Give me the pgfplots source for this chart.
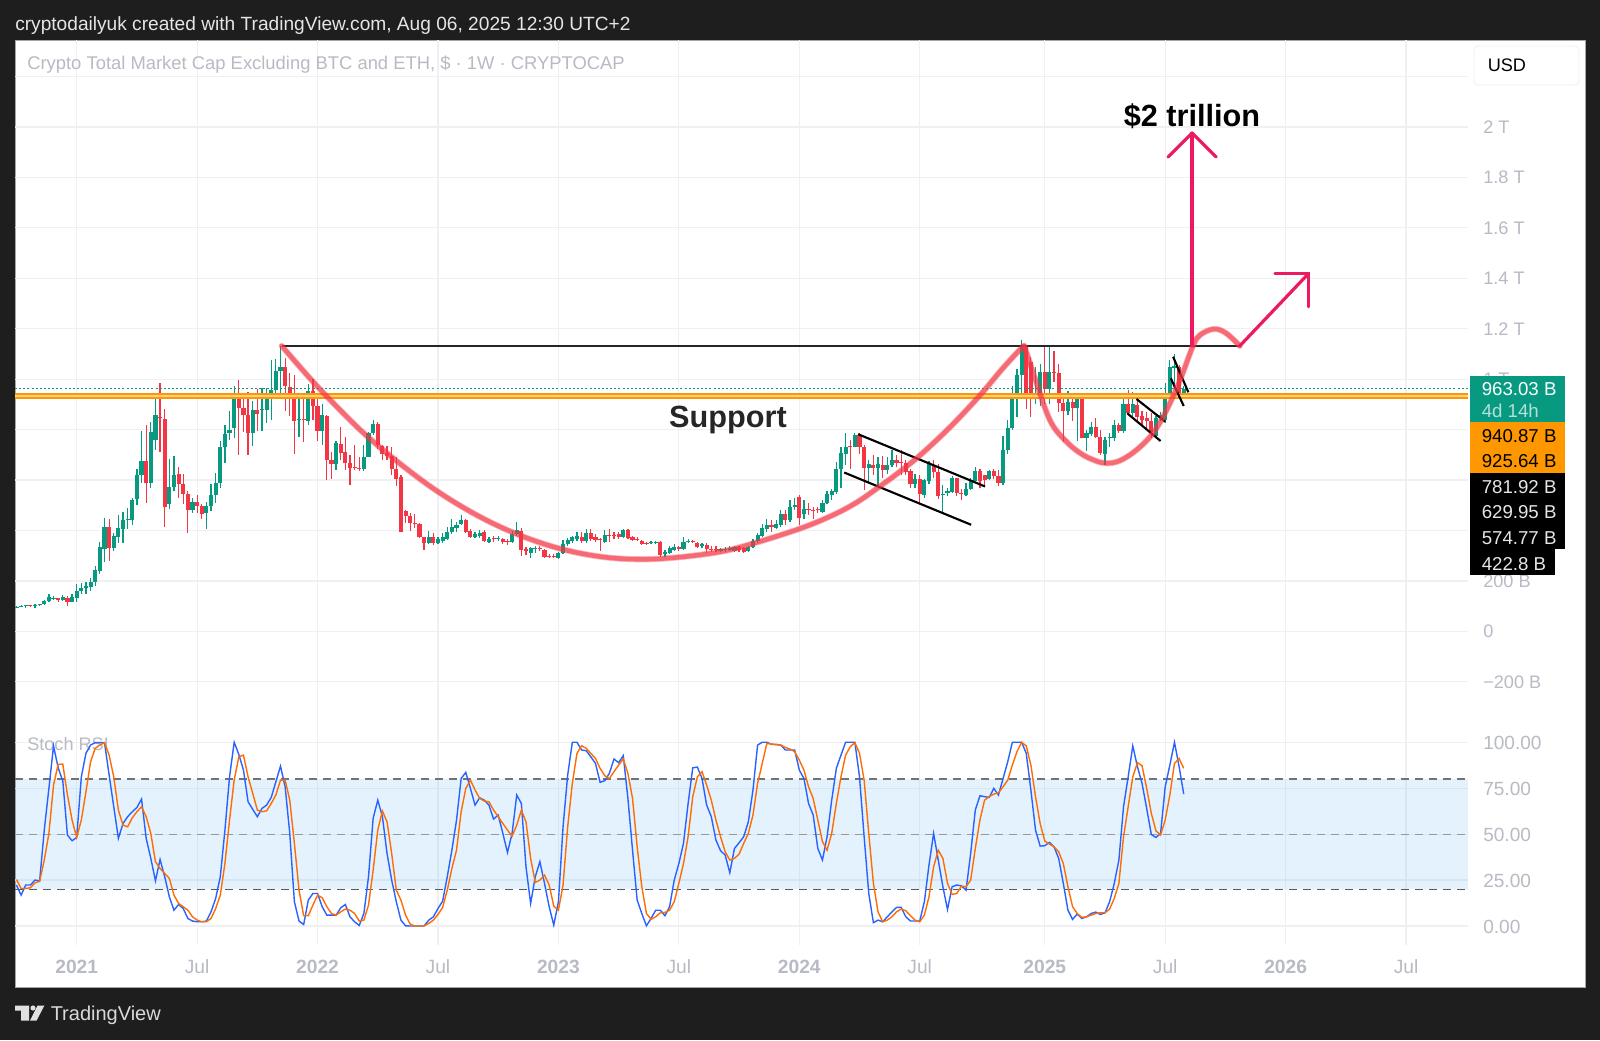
\documentclass[border=0pt]{standalone}
\usepackage{pgfplots}
\usepackage{pgfplotstable}
\usepackage{fontspec}
\setmainfont{Liberation Sans}
\pgfplotsset{compat=1.18}
\definecolor{bgd}{HTML}{1E1E1E}
\definecolor{upc}{HTML}{089981}
\definecolor{dnc}{HTML}{F23645}
\definecolor{org}{HTML}{FF9800}
\definecolor{tick}{HTML}{B8BAC4}
\definecolor{gridc}{HTML}{F0F0F2}
\definecolor{cup}{HTML}{F23645}
\definecolor{arr}{HTML}{EC1A60}
\definecolor{kline}{HTML}{2962FF}
\definecolor{dline}{HTML}{FF6D00}
\definecolor{band}{HTML}{2196F3}
\newcommand\fs[1]{\fontsize{#1pt}{#1pt}\selectfont}
% weekly candles, x = weeks from Jan 2021, prices in billions
\pgfplotstableread{
x o h l c
-13 95 102 92 98
-12 98 106 96 102
-11 100 106 92 103
-9 100 108 94 103
-8 103 110 100 107
-7 107 126 104 122
-6 122 150 118 135
-5 128 142 124 132
-3 123 145 120 135
-1 118 148 115 135
0 132 188 118 162
1 160 190 150 172
2 172 195 148 180
3 178 212 160 197
4 195 258 180 245
5 240 355 228 335
6 325 450 275 415
8 330 392 320 378
9 375 460 350 410
10 405 475 350 440
11 440 490 405 445
12 440 530 420 520
13 525 645 500 620
14 620 795 590 675
16 590 830 570 790
17 759 935 720 858
20 504 682 487 571
21 571 695 555 620
25 481 530 470 514
28 470 515 405 497
29 498 585 477 541
30 541 630 510 587
31 587 755 570 732
32 732 820 669 783
33 785 875 760 800
34 805 975 765 935
38 785 915 735 878
40 877 965 795 880
41 878 965 828 920
42 920 1075 838 957
43 957 1080 930 1032
44 1032 1130 945 1050
48 840 935 770 842
50 835 980 820 953
53 795 900 740 858
56 664 755 640 746
62 643 740 638 693
63 693 790 690 785
64 785 840 780 822
76 352 400 345 373
78 349 373 345 365
79 360 390 350 373
80 366 415 362 393
81 393 445 385 415
82 410 435 395 420
83 425 460 420 440
86 375 395 372 386
87 380 402 370 392
89 356 375 350 365
91 365 378 358 370
94 353 398 350 385
95 385 432 380 402
98 312 335 292 329
99 325 340 310 332
104 292 315 288 309
105 309 362 305 346
106 346 372 340 362
107 357 380 350 373
108 368 395 358 380
110 358 405 350 389
114 355 402 350 382
118 373 405 370 402
124 352 358 346 355
125 353 358 345 356
127 306 322 296 316
128 312 338 305 329
129 323 345 318 336
131 326 375 322 356
132 356 368 350 360
135 337 350 330 345
139 320 332 315 326
140 323 335 316 326
141 323 340 318 331
142 320 340 315 333
145 318 340 315 336
146 336 368 332 360
147 357 390 352 382
148 380 425 375 412
149 406 445 395 422
151 412 440 405 426
152 422 480 415 465
154 442 520 435 495
155 492 530 480 500
157 464 520 445 485
161 475 520 470 508
162 508 555 505 543
163 540 565 520 558
164 551 670 545 644
165 644 730 568 706
166 703 788 660 730
168 732 785 730 778
171 649 680 590 662
173 646 690 580 664
175 640 690 625 660
176 660 720 650 680
181 584 625 570 603
183 541 605 530 600
184 598 675 585 662
187 541 580 470 545
188 548 570 535 556
189 554 615 550 607
192 541 590 535 565
193 565 610 560 600
194 598 650 595 637
197 603 640 600 637
200 590 775 580 719
201 719 840 705 805
202 805 975 800 927
203 930 1040 850 1017
204 1017 1155 945 1132
207 920 1050 900 937
208 937 1060 895 1027
210 960 1130 900 1027
214 872 955 860 911
216 885 935 755 920
218 765 800 715 785
219 783 830 775 812
222 703 770 660 759
223 765 785 730 772
224 765 840 755 818
226 796 935 785 902
228 867 950 855 902
233 775 855 770 845
234 845 870 835 858
235 838 985 825 937
236 937 1075 925 1050
237 1045 1100 980 1052
239 937 975 925 963
}\upT
\pgfplotstableread{
x o h l c
-10 103 106 96 101
-4 131 134 115 124
-2 133 142 100 118
7 415 445 280 330
15 675 820 510 590
18 850 985 710 848
19 842 880 415 495
22 624 653 530 583
23 584 624 505 545
24 545 555 390 481
26 514 540 470 497
27 497 505 447 464
35 935 997 700 885
36 885 945 790 860
37 860 950 700 788
39 878 960 795 862
45 1050 1085 875 973
46 970 1025 855 934
47 934 1015 705 835
49 843 945 752 840
51 953 1000 840 895
52 895 935 755 795
54 854 858 600 680
55 680 710 605 664
57 742 810 680 709
58 710 770 640 666
59 669 700 582 649
60 650 740 640 648
61 648 690 635 645
65 822 830 725 739
66 735 738 680 703
67 707 735 680 695
68 695 730 620 645
69 645 690 575 604
70 613 620 395 395
71 477 480 430 459
72 459 470 400 431
73 431 465 410 428
74 426 430 370 373
75 373 375 322 352
77 373 390 342 349
84 441 445 390 393
85 398 405 370 373
88 395 402 355 360
90 370 380 355 365
92 368 372 345 353
93 358 365 342 353
96 400 410 300 323
97 325 335 303 320
100 332 340 320 329
101 323 328 290 297
102 300 308 292 297
103 298 305 290 294
109 373 395 352 360
111 389 405 360 368
112 375 385 355 362
113 365 372 320 361
115 383 405 355 379
116 382 395 365 379
117 385 395 365 373
119 402 405 365 370
120 375 378 358 362
121 368 375 358 362
122 360 362 342 346
123 352 356 345 347
126 355 358 295 303
130 336 340 320 327
133 358 362 350 354
134 350 356 332 336
136 343 350 310 325
137 328 338 315 324
138 328 338 316 325
143 333 338 316 323
144 330 335 312 316
150 421 440 395 415
153 465 480 420 442
156 534 540 420 448
158 485 510 462 481
159 481 495 445 477
160 484 495 470 481
167 735 760 645 730
169 778 785 705 732
170 732 740 560 649
172 660 700 620 646
174 660 695 610 640
177 680 700 650 666
178 672 720 620 668
179 669 680 620 633
180 636 645 570 584
182 603 620 510 545
185 660 680 610 633
186 633 665 525 537
190 607 610 535 547
191 549 565 520 544
195 637 645 570 598
196 620 620 580 600
198 637 645 605 617
199 616 640 578 590
205 1132 1135 880 927
206 1070 1090 850 920
209 1027 1130 900 960
211 1030 1110 990 1025
212 1024 1060 870 907
213 907 945 750 872
215 911 930 835 887
217 924 930 765 765
220 812 845 765 772
221 772 800 700 706
225 818 825 785 796
227 902 957 860 865
229 897 930 830 849
230 853 875 815 838
231 848 870 800 835
232 835 865 765 792
238 1050 1055 925 937
}\downT
% Stoch RSI, x = weeks from Jan 2021
\pgfplotstableread{
x k d
-13 22.3 25.3
-12 16.8 20.4
-11 22.3 20.4
-10 22.3 20.8
-9 25 23.5
-8 24.6 24.3
-7 52.2 35.9
-6 74.9 50.4
-5 98 76.7
-4 86.1 88
-3 78.9 88.1
-2 49.5 71.3
-1 46.4 57.7
0 48.2 48.2
1 81.2 57.7
2 94 73.1
3 98.5 89.4
4 99.8 96.7
5 99.8 98.5
6 99.8 99.8
7 82.2 93
8 64.9 81.2
9 47.7 63.1
10 55.8 54.9
11 59.5 54
12 62.2 58.9
13 64.5 62.2
14 69.1 64.9
15 47.7 59.5
16 36.8 50.4
17 24.6 35
18 36.2 31.3
19 26.8 28.6
20 15.9 25.9
21 8.6 16.8
22 11.7 12.3
23 9.5 10.5
24 4.1 8.6
25 2.7 5
26 2.3 3.2
27 2.3 2.3
28 2.7 2.3
29 7.7 4.1
30 15 9.5
31 26.8 16.8
32 52.2 34
33 81.2 57.7
34 100 79.4
35 93.4 92.1
36 84.9 93
37 67.6 81.2
38 63.5 72.2
39 59.5 63.1
40 64 62.2
41 65.8 62.7
42 70 66.7
43 78.5 71.3
44 87 79.4
45 75.8 79.4
46 50.4 68.5
47 13.2 45
48 2.7 19.5
49 0.8 5.6
50 14.1 5.6
51 17.7 11.4
52 17.7 16.8
53 10.5 15.4
54 5.9 10.5
55 5.9 6.8
56 5.9 5.9
57 9.9 7.7
58 11.7 9.2
59 5 8.6
60 2.3 6.8
61 0.3 2.7
62 6.8 3.2
63 26.8 11.4
64 58.6 30.4
65 68.5 52.2
66 59.5 62.6
67 39.5 56.7
68 25 39.5
69 13.2 19.5
70 3.2 14.1
71 0.1 5.9
72 0 1
73 0 0
74 0 0
75 0 0
76 3.2 1.4
77 5 3.2
78 9.5 6.3
79 13.5 10.1
80 26.8 19.5
81 41.3 31.3
82 57.6 41.3
83 80.3 62.2
84 83.6 74.9
85 74.9 79.4
86 65.8 74
87 69.8 69.5
88 68.5 68
89 65.8 67.6
90 58.2 63.1
91 60.4 59.5
92 50.4 55.8
93 40 52.2
94 50.4 48.9
95 71.3 54.9
96 66.7 63.1
97 32.2 56.7
98 12.3 36.8
99 26.8 23.7
100 35 25
101 23.2 27.7
102 10.5 22.3
103 0.5 10.8
104 13.2 8.6
105 54 22.3
106 82.2 54
107 100 77.6
108 100 93.9
109 95.8 98.1
110 95.4 96.7
111 92.1 93.9
112 88.5 91.2
113 78.2 85.8
114 79.1 81.8
115 83.1 80.3
116 90.9 84
117 88.9 87.6
118 92.7 90.9
119 69.5 83.1
120 41.3 69.5
121 14.1 43.1
122 6.8 21.4
123 0.1 6.8
124 4.1 3.7
125 8.6 5
126 8.6 7.2
127 5.6 7.4
128 10.5 8.6
129 25 13.2
130 34 23.2
131 45 34
132 66.7 48.6
133 86.1 70.4
134 86.5 81.2
135 80.3 84
136 65.8 76.7
137 59.5 68.5
138 46.8 57.7
139 41 48.6
140 38.6 40.4
141 29 35.9
142 42.2 36.8
143 45.3 39.1
144 48.6 45
145 56.7 50.4
146 74 60.4
147 98.5 77.6
148 100 88.5
149 100 99.4
150 98.9 99
151 98.7 98.9
152 98.5 98.5
153 95.8 97.2
154 95.8 96.3
155 95.8 94.9
156 84.9 90.3
157 80.3 84.9
158 66.7 75.8
159 60.4 69.4
160 42.2 57.7
161 35.9 45.9
162 48.6 41.3
163 68.5 50.4
164 85.8 66.7
165 93 81.2
166 100 93
167 100 97.6
168 100 99.8
169 81.2 94
170 48.6 79.4
171 17.7 50.4
172 1.8 23.2
173 3.2 7.7
174 2.3 2.3
175 5 3.2
176 7.7 5
177 10.1 7.7
178 10.1 9.2
179 5 8.3
180 2.7 5.6
181 2.7 3.2
182 2.7 2.3
183 13.2 5.9
184 33.1 15.9
185 50.4 32.2
186 35.9 41.3
187 21.4 36.8
188 9 23.2
189 21.4 17.2
190 22.3 17.7
191 21.9 21.7
192 19.5 21.4
193 39.5 25
194 63.1 42.2
195 70.9 57.7
196 70.4 68.5
197 70 70.4
198 74.9 71.8
199 71.3 72.5
200 80.3 75.8
201 89.4 79.4
202 100 87.6
203 100 94.9
204 100 100
205 94 98
206 74 87.6
207 52.2 70.4
208 43.5 55.8
209 43.7 46.2
210 45.5 44.6
211 43.1 43.1
212 36.8 40.4
213 23.2 34
214 8.6 21.4
215 3.6 10.5
216 6.5 6.8
217 4.1 4.7
218 5 5
219 6.8 5.9
220 7.6 6.8
221 6.3 7.2
222 7.2 7.2
223 13.2 9.2
224 23.2 15
225 35.9 23.2
226 64.9 48.6
227 81.2 64.9
228 98 81.2
229 86.7 88.9
230 77.6 87.2
231 64 74.9
232 49.8 61.3
233 48.2 51.8
234 50.4 49.5
235 75.8 57.7
236 87.6 71.3
237 100 88.5
238 86.7 91.2
239 71.8 85.8
}\stochT
\pgfplotsset{
  tvbase/.style={
    scale only axis, anchor=south west,
    width=1089.75pt,
    xmin=-13.32, xmax=300.37,
    xtick={0,26,52,78,104,130,156,182,209,235,261,287},
    xmajorgrids, ymajorgrids,
    grid style={draw=gridc, line width=0.9pt},
    major tick length=0pt,
    axis line style={draw=none},
    yticklabel pos=right,
    yticklabel style={anchor=mid west, inner sep=0pt, xshift=11.25pt, text=tick},
  },
  wick/.style={draw=none, mark=none, forget plot,
    error bars/.cd, y dir=both, y explicit, error mark=none,
    error bar style={line width=0.9pt, color=#1}},
  bodyup/.style={draw=none, mark=none, forget plot,
    error bars/.cd, y dir=minus, y explicit, error mark=none,
    error bar style={line width=3.1pt, color=#1}},
  bodydn/.style={draw=none, mark=none, forget plot,
    error bars/.cd, y dir=plus, y explicit, error mark=none,
    error bar style={line width=3.1pt, color=#1}},
  cupo/.style={draw=cup, draw opacity=0.35, line width=4.6pt, smooth, tension=0.6, no marks, line cap=round},
  cupi/.style={draw=cup, draw opacity=0.6, line width=3.4pt, smooth, tension=0.6, no marks, line cap=round},
  blk/.style={draw=black, line width=1.6pt, no marks},
  pink/.style={draw=arr, line width=2.4pt, no marks, line cap=round, line join=round},
}
\begin{document}
\begin{tikzpicture}
\path[use as bounding box] (0,0) rectangle (1200pt,780pt);
\fill[bgd] (0,0) rectangle (1200pt,780pt);
\fill[white] (11.25pt,39.75pt) rectangle (1188.75pt,750pt);
\draw[gray!70, line width=0.6pt] (11.25pt,39.75pt) rectangle (1188.75pt,750pt);

% --- price pane ---
\begin{axis}[tvbase, at={(11.25pt,243pt)}, height=507pt,
  ymin=-335.4, ymax=2345,
  xticklabels={},
  yticklabel style={font=\fs{13.6}, yshift=-2.2pt},
  ytick={-200,0,200,400,600,800,1000,1200,1400,1600,1800,2000,2200},
  yticklabels={−200 B,0,200 B,400 B,600 B,800 B,1 T,1.2 T,1.4 T,1.6 T,1.8 T,2 T,{}},
]
\addplot[wick=upc] table[x=x,y=c,y error plus expr=\thisrow{h}-\thisrow{c},y error minus expr=\thisrow{c}-\thisrow{l}] {\upT};
\addplot[bodyup=upc] table[x=x,y=c,y error minus expr=\thisrow{c}-\thisrow{o}] {\upT};
\addplot[wick=dnc] table[x=x,y=c,y error plus expr=\thisrow{h}-\thisrow{c},y error minus expr=\thisrow{c}-\thisrow{l}] {\downT};
\addplot[bodydn=dnc] table[x=x,y=c,y error plus expr=\thisrow{o}-\thisrow{c}] {\downT};
% price lines
\addplot[draw=upc, line width=0.8pt, dash pattern=on 1.5pt off 1.6pt, no marks] coordinates {(-13.32,963.03) (300.37,963.03)};
\addplot[draw=org!45, line width=3.4pt, no marks] coordinates {(-13.32,933.25) (300.37,933.25)};
\addplot[draw=org, line width=1.8pt, no marks] coordinates {(-13.32,940.87) (300.37,940.87)};
\addplot[draw=org, line width=1.8pt, no marks] coordinates {(-13.32,925.64) (300.37,925.64)};
% neckline
\addplot[draw=black!85, line width=0.9pt, no marks] coordinates {(44.3,1132) (251.1,1132)};
% flags
\addplot[blk] coordinates {(168.7,781.92) (196.1,574.77)};
\addplot[blk] coordinates {(165.7,629.95) (193.1,422.8)};
\addplot[blk] coordinates {(228.8,921.5) (235,831.5)};
\addplot[blk] coordinates {(226.8,864.8) (234,755)};
\addplot[blk] coordinates {(236.7,1089) (240,948)};
\addplot[blk] coordinates {(236.2,1003.6) (239,893.7)};
% cups
\pgfplotstableread{
x y
44.26 1132
51 990.5
56.84 878.3
62.6 775.6
69.8 665
77.9 555.1
86.6 458.8
95 386.2
103.9 330.3
113 296.6
121.6 285.9
129.8 293.8
138.9 315.6
146.1 349
156.2 408
163.3 461.5
168.4 511.7
173.1 571.2
177.7 633.3
181.3 686.1
184.9 745.6
188.5 809.1
192.1 877.8
195.7 950.5
199.3 1029.8
202.2 1089.3
204.4 1131.6
}\bigcup
\pgfplotstableread{
x y
204.6 1132
206.5 1025
210.1 838.2
213.7 752
217.3 699.4
220.9 670.5
222.4 666.5
225.2 676.8
228.8 719.3
232.4 786.7
235.3 877.9
238.2 996.8
241 1132
242.5 1175
245.5 1199
248.1 1183
251.1 1132
}\smallcup
\addplot[cupo] table {\bigcup};
\addplot[cupi] table {\bigcup};
\addplot[cupo] table {\smallcup};
\addplot[cupi] table {\smallcup};
% arrows
\addplot[pink] coordinates {(240.8,1132) (240.8,1976)};
\addplot[pink] coordinates {(235.6,1881) (240.8,1976) (246,1881)};
\addplot[pink] coordinates {(251.1,1132) (266,1420)};
\addplot[pink] coordinates {(258.7,1420) (266,1420) (266,1287)};
\end{axis}

% --- stochastic RSI pane ---
\begin{axis}[tvbase, at={(11.25pt,71.25pt)}, height=171.75pt,
  ymin=-10.34, ymax=114.3,
  xticklabels={\textbf{2021},Jul,\textbf{2022},Jul,\textbf{2023},Jul,\textbf{2024},Jul,\textbf{2025},Jul,\textbf{2026},Jul},
  xticklabel style={text=tick, font=\fs{14.4}, anchor=mid, yshift=-19pt},
  yticklabel style={font=\fs{14.3}, yshift=-3pt},
  ytick={0,25,50,75,100},
  yticklabels={0.00,25.00,50.00,75.00,100.00},
]
\node[anchor=mid west, inner sep=0pt, text=tick, font=\fs{13.6}] at (axis cs:-10.73,97.4) {Stoch RSI};
\addplot[draw=none, fill=band, fill opacity=0.12, forget plot] coordinates {(-13.32,20) (300.37,20) (300.37,80) (-13.32,80)} -- cycle;
\addplot[draw=black!55, line width=0.8pt, dash pattern=on 6pt off 4.5pt, no marks] coordinates {(-13.32,80) (300.37,80)};
\addplot[draw=black!40, line width=0.8pt, dash pattern=on 6pt off 4.5pt, no marks] coordinates {(-13.32,50) (300.37,50)};
\addplot[draw=black!65, line width=0.8pt, dash pattern=on 6pt off 4.5pt, no marks] coordinates {(-13.32,20) (300.37,20)};
\addplot[draw=kline, line width=1.05pt, no marks] table[x=x,y=k] {\stochT};
\addplot[draw=dline, line width=1.05pt, no marks] table[x=x,y=d] {\stochT};
\end{axis}

% --- annotations and scale tags, coordinates in reference pixels ---
\begin{scope}[x=0.75pt,y=-0.75pt,yshift=780pt]
\node[anchor=mid west, inner sep=0pt, text=white!90!black, font=\fs{14.35}] at (15,26.5) {cryptodailyuk created with TradingView.com, Aug 06, 2025 12:30 UTC+2};
\node[anchor=mid west, inner sep=0pt, text=tick, font=\fs{13.8}] at (27,66) {Crypto Total Market Cap Excluding BTC and ETH, \$ · 1W · CRYPTOCAP};
\node[anchor=mid, inner sep=0pt, text=black, font=\bfseries\fs{23}] at (1192,123) {\$2 trillion};
\node[anchor=mid, inner sep=0pt, text=black!85, font=\bfseries\fs{23}] at (728,424) {Support};
\filldraw[fill=white, draw=gridc, line width=0.7pt, rounded corners=3pt] (1474,46) rectangle (1579,85);
\node[anchor=mid west, inner sep=0pt, text=black, font=\fs{13.6}] at (1487.5,67.5) {USD};
\fill[upc] (1469.5,376) rectangle (1565,422);
\fill[org] (1469.5,422) rectangle (1565,473);
\fill[black] (1469.5,473) rectangle (1565,549);
\fill[black] (1469.5,549) rectangle (1555,575);
\node[anchor=mid west, inner sep=0pt, text=white, font=\fs{14}] at (1481.5,392) {963.03 B};
\node[anchor=mid west, inner sep=0pt, text=white!70!upc, font=\fs{14}] at (1481.5,414) {4d 14h};
\node[anchor=mid west, inner sep=0pt, text=black, font=\fs{14}] at (1481.5,439) {940.87 B};
\node[anchor=mid west, inner sep=0pt, text=black, font=\fs{14}] at (1481.5,464) {925.64 B};
\node[anchor=mid west, inner sep=0pt, text=white!90!black, font=\fs{14}] at (1481.5,490) {781.92 B};
\node[anchor=mid west, inner sep=0pt, text=white!90!black, font=\fs{14}] at (1481.5,515) {629.95 B};
\node[anchor=mid west, inner sep=0pt, text=white!90!black, font=\fs{14}] at (1481.5,541) {574.77 B};
\node[anchor=mid west, inner sep=0pt, text=white!90!black, font=\fs{14}] at (1481.5,566.5) {422.8 B};
% TradingView logo
\fill[white!88!black] (15,1005.7) -- (29,1005.7) -- (29,1020.7) -- (21,1020.7) -- (21,1010.5) -- (15,1010.5) -- cycle;
\fill[white!88!black] (33,1008) circle (2.6);
\fill[white!88!black] (37.5,1005.7) -- (44.3,1005.7) -- (36.5,1020.7) -- (30,1020.7) -- cycle;
\node[anchor=mid west, inner sep=0pt, text=white!85!black, font=\fs{15}] at (50.5,1017) {TradingView};
\end{scope}
\end{tikzpicture}
\end{document}
